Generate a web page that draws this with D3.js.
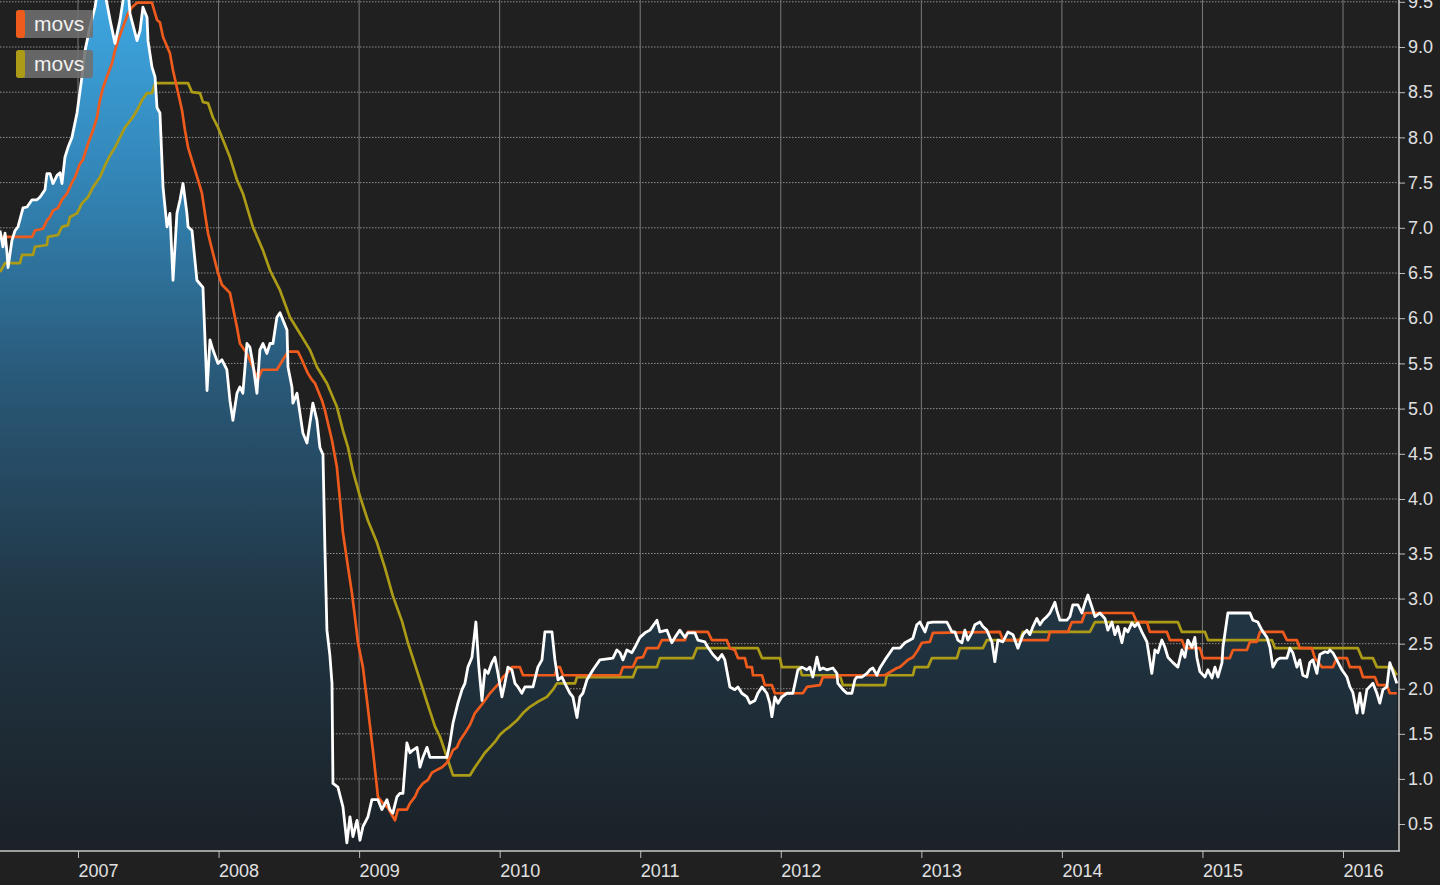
<!DOCTYPE html>
<html><head><meta charset="utf-8">
<script src="https://cdnjs.cloudflare.com/ajax/libs/d3/7.8.5/d3.min.js"></script>
<style>
html,body{margin:0;padding:0;background:#202020;}
svg{display:block;}
</style></head>
<body><svg id="chart" width="1440" height="885"></svg>
<script>
// ---------- DATA (decimal year, value) ----------
const spot = [[2006.445,6.97],[2006.466,6.79],[2006.481,6.94],[2006.495,6.72],[2006.502,6.56],[2006.530,6.86],[2006.552,6.97],
[2006.573,7.01],[2006.609,7.22],[2006.637,7.23],[2006.673,7.31],[2006.708,7.31],[2006.730,7.34],[2006.765,7.42],[2006.779,7.60],
[2006.801,7.60],[2006.822,7.49],[2006.851,7.58],[2006.872,7.61],[2006.886,7.49],[2006.907,7.78],[2006.929,7.89],[2006.957,8.00],
[2006.993,8.27],[2007.028,8.67],[2007.050,8.96],[2007.085,9.22],[2007.121,9.44],[2007.142,9.65],[2007.185,9.65],[2007.228,9.30],
[2007.263,9.04],[2007.299,9.30],[2007.334,9.65],[2007.356,9.65],[2007.370,9.37],[2007.420,9.07],[2007.441,9.18],[2007.462,9.44],
[2007.491,9.33],[2007.498,9.07],[2007.526,8.78],[2007.548,8.67],[2007.562,8.33],[2007.583,8.27],[2007.605,7.45],[2007.633,7.01],
[2007.654,7.16],[2007.676,6.42],[2007.704,7.16],[2007.726,7.31],[2007.747,7.49],[2007.775,7.16],[2007.783,7.01],[2007.811,6.97],
[2007.846,6.42],[2007.889,6.34],[2007.918,5.20],[2007.939,5.76],[2007.960,5.65],[2007.996,5.50],[2008.024,5.54],[2008.059,5.43],
[2008.081,5.09],[2008.102,4.87],[2008.131,5.17],[2008.152,5.24],[2008.173,5.17],[2008.202,5.72],[2008.223,5.68],[2008.244,5.50],
[2008.273,5.17],[2008.294,5.65],[2008.316,5.72],[2008.344,5.61],[2008.366,5.72],[2008.387,5.72],[2008.415,6.01],[2008.437,6.06],
[2008.458,5.98],[2008.487,5.87],[2008.494,5.46],[2008.522,5.24],[2008.529,5.06],[2008.558,5.17],[2008.579,4.95],[2008.600,4.73],
[2008.629,4.62],[2008.650,4.84],[2008.671,5.06],[2008.700,4.87],[2008.721,4.57],[2008.743,4.49],[2008.757,3.53],[2008.771,2.65],
[2008.792,2.37],[2008.807,2.06],[2008.814,0.95],[2008.849,0.91],[2008.885,0.69],[2008.913,0.29],[2008.935,0.58],[2008.956,0.36],
[2008.985,0.54],[2009.006,0.32],[2009.027,0.47],[2009.063,0.58],[2009.091,0.77],[2009.134,0.77],[2009.162,0.66],[2009.198,0.77],
[2009.219,0.66],[2009.240,0.62],[2009.269,0.80],[2009.290,0.84],[2009.312,0.84],[2009.340,1.40],[2009.362,1.29],[2009.383,1.32],
[2009.412,1.35],[2009.433,1.13],[2009.454,1.24],[2009.483,1.35],[2009.504,1.24],[2009.525,1.24],[2009.625,1.24],[2009.646,1.40],
[2009.668,1.62],[2009.703,1.84],[2009.732,1.99],[2009.753,2.06],[2009.774,2.24],[2009.803,2.35],[2009.831,2.74],[2009.852,2.24],
[2009.874,1.87],[2009.895,2.21],[2009.917,2.17],[2009.945,2.29],[2009.966,2.35],[2009.988,2.17],[2010.016,1.91],[2010.037,2.06],
[2010.059,2.24],[2010.087,2.21],[2010.109,2.06],[2010.130,2.02],[2010.158,1.95],[2010.180,2.02],[2010.237,2.02],[2010.272,2.24],
[2010.301,2.32],[2010.322,2.63],[2010.372,2.63],[2010.393,2.32],[2010.415,2.10],[2010.443,2.13],[2010.464,2.06],[2010.500,1.95],
[2010.521,1.91],[2010.550,1.68],[2010.571,1.91],[2010.592,1.95],[2010.621,2.10],[2010.664,2.21],[2010.713,2.32],[2010.806,2.34],
[2010.834,2.43],[2010.856,2.40],[2010.877,2.32],[2010.905,2.43],[2010.941,2.40],[2010.962,2.46],[2010.998,2.57],[2011.034,2.62],
[2011.069,2.65],[2011.119,2.76],[2011.140,2.63],[2011.190,2.65],[2011.225,2.51],[2011.247,2.57],[2011.282,2.65],[2011.318,2.57],
[2011.339,2.62],[2011.389,2.62],[2011.410,2.54],[2011.460,2.52],[2011.481,2.46],[2011.517,2.38],[2011.553,2.32],[2011.581,2.38],
[2011.602,2.32],[2011.638,2.02],[2011.673,1.99],[2011.695,2.02],[2011.723,1.95],[2011.759,1.91],[2011.780,1.84],[2011.816,1.87],
[2011.837,1.95],[2011.866,2.02],[2011.901,1.95],[2011.922,1.84],[2011.937,1.69],[2011.958,1.91],[2011.980,1.84],[2012.008,1.91],
[2012.044,1.95],[2012.086,1.95],[2012.122,2.21],[2012.150,2.24],[2012.186,2.21],[2012.207,2.24],[2012.228,2.13],[2012.257,2.35],
[2012.278,2.21],[2012.300,2.23],[2012.328,2.21],[2012.371,2.23],[2012.399,2.17],[2012.406,2.06],[2012.442,1.99],[2012.470,1.95],
[2012.506,1.95],[2012.527,2.10],[2012.541,2.13],[2012.577,2.13],[2012.613,2.17],[2012.634,2.21],[2012.655,2.23],[2012.684,2.15],
[2012.705,2.23],[2012.741,2.32],[2012.776,2.40],[2012.798,2.45],[2012.848,2.45],[2012.883,2.51],[2012.919,2.54],[2012.940,2.56],
[2012.968,2.71],[2012.990,2.74],[2013.026,2.63],[2013.047,2.73],[2013.082,2.74],[2013.182,2.74],[2013.218,2.63],[2013.239,2.63],
[2013.260,2.54],[2013.289,2.51],[2013.310,2.65],[2013.331,2.54],[2013.360,2.62],[2013.381,2.71],[2013.417,2.74],[2013.438,2.69],
[2013.466,2.65],[2013.502,2.52],[2013.523,2.30],[2013.545,2.54],[2013.580,2.52],[2013.616,2.63],[2013.652,2.60],[2013.687,2.45],
[2013.723,2.60],[2013.751,2.65],[2013.772,2.60],[2013.794,2.69],[2013.822,2.78],[2013.844,2.71],[2013.865,2.76],[2013.893,2.80],
[2013.915,2.84],[2013.936,2.91],[2013.950,2.96],[2013.964,2.87],[2013.986,2.76],[2014.036,2.76],[2014.057,2.80],[2014.078,2.93],
[2014.114,2.93],[2014.142,2.84],[2014.164,2.95],[2014.185,3.04],[2014.213,2.91],[2014.235,2.80],[2014.270,2.84],[2014.306,2.78],
[2014.327,2.65],[2014.356,2.74],[2014.377,2.60],[2014.398,2.69],[2014.427,2.51],[2014.448,2.67],[2014.469,2.63],[2014.498,2.73],
[2014.519,2.69],[2014.540,2.73],[2014.569,2.63],[2014.605,2.52],[2014.640,2.17],[2014.662,2.43],[2014.683,2.40],[2014.711,2.54],
[2014.733,2.46],[2014.754,2.35],[2014.790,2.29],[2014.825,2.24],[2014.854,2.43],[2014.875,2.35],[2014.896,2.54],[2014.925,2.46],
[2014.946,2.57],[2014.960,2.35],[2014.982,2.19],[2015.018,2.13],[2015.039,2.21],[2015.068,2.12],[2015.089,2.24],[2015.110,2.13],
[2015.139,2.29],[2015.146,2.46],[2015.181,2.84],[2015.338,2.84],[2015.359,2.76],[2015.394,2.74],[2015.423,2.65],[2015.459,2.57],
[2015.480,2.46],[2015.501,2.24],[2015.530,2.32],[2015.551,2.34],[2015.601,2.34],[2015.622,2.45],[2015.643,2.40],[2015.672,2.24],
[2015.693,2.32],[2015.714,2.15],[2015.743,2.13],[2015.764,2.29],[2015.786,2.32],[2015.814,2.17],[2015.835,2.38],[2015.871,2.41],
[2015.892,2.40],[2015.906,2.43],[2015.928,2.40],[2015.956,2.32],[2015.992,2.21],[2016.028,2.13],[2016.049,2.02],[2016.070,1.96],
[2016.099,1.73],[2016.120,1.95],[2016.142,1.73],[2016.170,1.99],[2016.213,2.06],[2016.241,1.95],[2016.262,1.84],[2016.284,1.99],
[2016.312,2.02],[2016.333,2.29],[2016.355,2.19],[2016.383,2.06]];

const movsShort = [[2006.445,6.90],[2006.673,6.90],[2006.694,6.97],[2006.751,6.99],[2006.779,7.08],[2006.801,7.12],[2006.822,7.19],
[2006.858,7.22],[2006.886,7.31],[2006.922,7.38],[2006.957,7.50],[2006.979,7.56],[2007.014,7.71],[2007.035,7.75],[2007.071,7.93],
[2007.107,8.08],[2007.135,8.22],[2007.156,8.41],[2007.178,8.55],[2007.206,8.67],[2007.242,8.82],[2007.263,8.96],[2007.284,9.07],
[2007.320,9.22],[2007.356,9.37],[2007.384,9.44],[2007.420,9.49],[2007.526,9.49],[2007.562,9.30],[2007.583,9.27],[2007.605,9.11],
[2007.654,8.93],[2007.676,8.74],[2007.704,8.55],[2007.740,8.30],[2007.761,8.08],[2007.783,7.89],[2007.818,7.71],[2007.854,7.53],
[2007.882,7.38],[2007.903,7.16],[2007.925,6.94],[2007.960,6.72],[2007.996,6.50],[2008.024,6.37],[2008.081,6.28],[2008.102,6.12],
[2008.131,5.90],[2008.152,5.72],[2008.202,5.61],[2008.244,5.46],[2008.280,5.32],[2008.309,5.43],[2008.415,5.43],[2008.458,5.54],
[2008.494,5.63],[2008.565,5.63],[2008.593,5.54],[2008.615,5.46],[2008.636,5.39],[2008.664,5.32],[2008.686,5.28],[2008.707,5.20],
[2008.736,5.09],[2008.757,4.98],[2008.778,4.84],[2008.807,4.65],[2008.842,4.35],[2008.864,3.99],[2008.885,3.69],[2008.921,3.35],
[2008.949,3.06],[2008.970,2.80],[2008.992,2.51],[2009.027,2.24],[2009.056,1.87],[2009.098,1.32],[2009.134,0.80],[2009.170,0.73],
[2009.205,0.68],[2009.255,0.54],[2009.276,0.66],[2009.340,0.66],[2009.362,0.73],[2009.397,0.80],[2009.419,0.88],[2009.454,0.95],
[2009.490,0.99],[2009.518,1.07],[2009.554,1.10],[2009.590,1.13],[2009.625,1.18],[2009.646,1.24],[2009.668,1.32],[2009.696,1.35],
[2009.718,1.43],[2009.753,1.51],[2009.789,1.60],[2009.824,1.73],[2009.860,1.80],[2009.895,1.87],[2009.931,1.95],[2009.966,2.01],
[2010.002,2.07],[2010.023,2.13],[2010.052,2.17],[2010.087,2.24],[2010.144,2.24],[2010.166,2.15],[2010.393,2.15],[2010.408,2.24],
[2010.429,2.24],[2010.450,2.15],[2010.856,2.15],[2010.877,2.24],[2010.948,2.24],[2010.976,2.34],[2011.019,2.35],[2011.047,2.45],
[2011.126,2.45],[2011.154,2.54],[2011.318,2.54],[2011.339,2.63],[2011.481,2.63],[2011.510,2.54],[2011.616,2.54],[2011.638,2.45],
[2011.673,2.43],[2011.695,2.34],[2011.745,2.34],[2011.759,2.24],[2011.795,2.24],[2011.802,2.15],[2011.866,2.15],[2011.887,2.04],
[2011.937,2.04],[2011.958,1.95],[2012.157,1.95],[2012.186,2.02],[2012.278,2.04],[2012.300,2.13],[2012.399,2.13],[2012.420,2.15],
[2012.741,2.15],[2012.826,2.23],[2012.848,2.24],[2012.904,2.32],[2012.940,2.35],[2012.976,2.43],[2013.004,2.51],[2013.061,2.52],
[2013.082,2.62],[2013.559,2.63],[2013.580,2.54],[2013.900,2.54],[2013.915,2.63],[2014.043,2.63],[2014.071,2.74],[2014.142,2.74],
[2014.164,2.84],[2014.505,2.84],[2014.533,2.74],[2014.605,2.74],[2014.626,2.63],[2014.747,2.63],[2014.768,2.54],[2014.854,2.54],
[2014.875,2.45],[2014.982,2.45],[2015.003,2.34],[2015.195,2.34],[2015.217,2.43],[2015.316,2.43],[2015.338,2.52],[2015.387,2.52],
[2015.409,2.63],[2015.572,2.63],[2015.601,2.54],[2015.672,2.54],[2015.693,2.45],[2015.778,2.45],[2015.800,2.34],[2015.850,2.24],
[2015.928,2.24],[2015.956,2.34],[2016.028,2.34],[2016.049,2.24],[2016.120,2.24],[2016.142,2.13],[2016.227,2.13],[2016.248,2.04],
[2016.312,2.04],[2016.333,1.95],[2016.383,1.95]];

const movsLong = [[2006.445,6.51],[2006.481,6.61],[2006.587,6.61],[2006.602,6.70],[2006.680,6.70],[2006.694,6.79],[2006.779,6.81],
[2006.786,6.90],[2006.858,6.92],[2006.886,7.01],[2006.929,7.03],[2006.943,7.12],[2006.993,7.16],[2007.028,7.27],[2007.071,7.34],
[2007.107,7.45],[2007.156,7.56],[2007.192,7.69],[2007.228,7.80],[2007.263,7.89],[2007.299,8.00],[2007.334,8.11],[2007.384,8.21],
[2007.420,8.30],[2007.455,8.41],[2007.491,8.49],[2007.526,8.49],[2007.548,8.60],[2007.783,8.60],[2007.811,8.50],[2007.868,8.49],
[2007.889,8.39],[2007.925,8.38],[2007.960,8.22],[2007.996,8.11],[2008.032,7.97],[2008.081,7.78],[2008.131,7.53],[2008.173,7.38],
[2008.244,7.01],[2008.316,6.75],[2008.366,6.53],[2008.437,6.31],[2008.508,6.01],[2008.579,5.83],[2008.650,5.65],[2008.700,5.46],
[2008.771,5.28],[2008.842,5.02],[2008.885,4.76],[2008.921,4.57],[2008.956,4.31],[2009.006,4.03],[2009.063,3.80],[2009.127,3.60],
[2009.184,3.34],[2009.240,3.03],[2009.305,2.75],[2009.347,2.51],[2009.397,2.27],[2009.447,2.03],[2009.483,1.85],[2009.540,1.58],
[2009.575,1.47],[2009.625,1.24],[2009.668,1.04],[2009.789,1.04],[2009.824,1.13],[2009.860,1.21],[2009.895,1.29],[2009.931,1.35],
[2009.966,1.41],[2010.002,1.49],[2010.037,1.54],[2010.073,1.58],[2010.123,1.65],[2010.166,1.73],[2010.216,1.80],[2010.265,1.85],
[2010.336,1.91],[2010.379,1.99],[2010.408,2.06],[2010.536,2.06],[2010.550,2.13],[2010.948,2.13],[2010.976,2.24],[2011.119,2.24],
[2011.140,2.34],[2011.375,2.34],[2011.403,2.45],[2011.837,2.45],[2011.866,2.34],[2011.994,2.34],[2012.008,2.24],[2012.136,2.24],
[2012.150,2.15],[2012.420,2.15],[2012.442,2.04],[2012.741,2.04],[2012.755,2.15],[2012.940,2.15],[2012.954,2.24],[2013.047,2.24],
[2013.075,2.34],[2013.253,2.34],[2013.274,2.45],[2013.438,2.45],[2013.466,2.54],[2013.701,2.54],[2013.723,2.63],[2014.199,2.63],
[2014.235,2.74],[2014.825,2.74],[2014.854,2.63],[2015.018,2.63],[2015.039,2.54],[2015.494,2.54],[2015.516,2.45],[2016.106,2.45],
[2016.135,2.34],[2016.213,2.34],[2016.241,2.24],[2016.348,2.24],[2016.383,2.15]];

const yearTicks = [2007, 2008, 2009, 2010, 2011, 2012, 2013, 2014, 2015, 2016];
const valueTicks = [0.5, 1.0, 1.5, 2.0, 2.5, 3.0, 3.5, 4.0, 4.5, 5.0, 5.5, 6.0, 6.5, 7.0, 7.5, 8.0, 8.5, 9.0, 9.5];
const legendLabels = ["movs", "movs"];
const seriesColors = ["#ef5a1d", "#ab9b17"];

// ---------- LAYOUT ----------
const W = 1440, H = 885;
const plotRight = 1399, plotBottom = 851;
const svg = d3.select("#chart");
svg.append("rect").attr("width", W).attr("height", H).attr("fill", "#202020");

const x = d3.scaleLinear().domain([2007, 2016]).range([78, 1343]);
// the reference's value axis has a slightly wider gap between 3.5 and 4.0
const y = d3.scaleLinear().domain([0.5, 3.5, 4.0, 9.5]).range([824, 553.5, 499, 1.8]);

const defs = svg.append("defs");
defs.append("clipPath").attr("id", "plotclip").append("rect")
  .attr("x", 0).attr("y", 0).attr("width", plotRight).attr("height", plotBottom);
const grad = defs.append("linearGradient").attr("id", "areaGrad")
  .attr("gradientUnits", "userSpaceOnUse").attr("x1", 0).attr("y1", 0).attr("x2", 0).attr("y2", plotBottom);
[[0, "#3ea6e0"], [0.2, "#3387b9"], [0.45, "#295877"], [0.7, "#213746"], [1, "#1b2127"]].forEach(s =>
  grad.append("stop").attr("offset", s[0]).attr("stop-color", s[1]));

// grid
const grid = svg.append("g");
grid.selectAll(".hg").data(valueTicks).join("line")
  .attr("x1", 0).attr("x2", plotRight).attr("y1", d => y(d)).attr("y2", d => y(d))
  .attr("stroke", "#909090").attr("stroke-width", 1).attr("stroke-dasharray", "1.5,1.5");
grid.selectAll(".vg").data(yearTicks).join("line")
  .attr("x1", d => x(d)).attr("x2", d => x(d)).attr("y1", 0).attr("y2", plotBottom)
  .attr("stroke", "#7a7a7a").attr("stroke-width", 1);

// series
const plot = svg.append("g").attr("clip-path", "url(#plotclip)");
const area = d3.area().x(d => x(d[0])).y0(plotBottom).y1(d => y(d[1]));
const line = d3.line().x(d => x(d[0])).y(d => y(d[1]));
plot.append("path").datum(spot).attr("d", area).attr("fill", "url(#areaGrad)");
plot.append("path").datum(movsLong).attr("d", line).attr("fill", "none")
  .attr("stroke", seriesColors[1]).attr("stroke-width", 2.7).attr("stroke-linejoin", "round");
plot.append("path").datum(movsShort).attr("d", line).attr("fill", "none")
  .attr("stroke", seriesColors[0]).attr("stroke-width", 2.7).attr("stroke-linejoin", "round");
plot.append("path").datum(spot).attr("d", line).attr("fill", "none")
  .attr("stroke", "#ffffff").attr("stroke-width", 2.8).attr("stroke-linejoin", "round");

// axes
const fontFam = "'Liberation Sans', Arial, Helvetica, sans-serif";
const yAxis = svg.append("g").attr("transform", `translate(${plotRight},0)`)
  .call(d3.axisRight(y).tickValues(valueTicks).tickFormat(d3.format(".1f")).tickSize(6).tickPadding(3));
yAxis.select(".domain").remove();
yAxis.selectAll("line").attr("stroke", "#bdbdbd");
yAxis.selectAll("text").attr("fill", "#e0e0e0").style("font-family", fontFam).style("font-size", "18px");

const xAxis = svg.append("g").attr("transform", `translate(0,${plotBottom})`)
  .call(d3.axisBottom(x).tickValues(yearTicks).tickFormat(d3.format("d")).tickSize(7));
xAxis.select(".domain").remove();
xAxis.selectAll("line").attr("stroke", "#bdbdbd");
xAxis.selectAll("text").attr("fill", "#e0e0e0").style("font-family", fontFam).style("font-size", "18px")
  .attr("text-anchor", "start").attr("x", 0).attr("y", 13).attr("dy", "0.71em");

svg.append("line").attr("x1", 0).attr("x2", plotRight + 1).attr("y1", plotBottom).attr("y2", plotBottom)
  .attr("stroke", "#c8c8c8").attr("stroke-width", 1.5);
svg.append("line").attr("x1", plotRight).attr("x2", plotRight).attr("y1", 0).attr("y2", plotBottom)
  .attr("stroke", "#c8c8c8").attr("stroke-width", 1.5);

// legend
const leg = svg.append("g");
legendLabels.forEach((lab, i) => {
  const g = leg.append("g").attr("transform", `translate(16,${10 + i * 40})`);
  g.append("rect").attr("width", 77).attr("height", 28).attr("rx", 3)
    .attr("fill", "rgba(112,112,112,0.88)");
  g.append("rect").attr("width", 9).attr("height", 28).attr("rx", 3).attr("fill", seriesColors[i]);
  g.append("text").attr("x", 18).attr("y", 21).text(lab)
    .attr("fill", "#f0f0f0").style("font-family", fontFam).style("font-size", "21px");
});
</script></body></html>
